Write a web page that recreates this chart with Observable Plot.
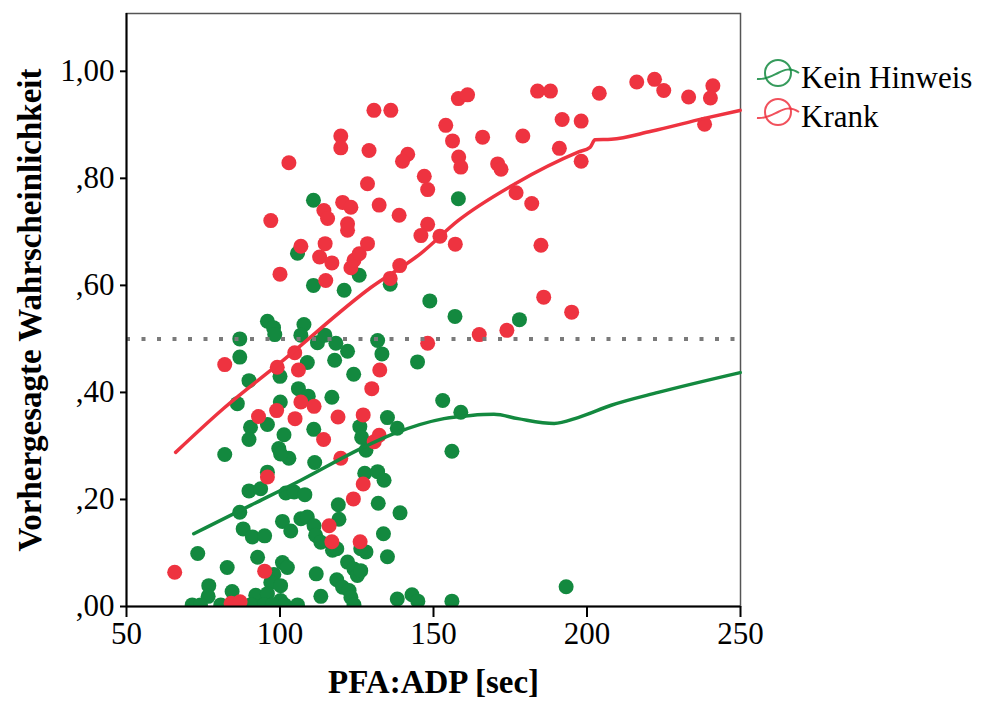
<!DOCTYPE html>
<html><head><meta charset="utf-8">
<script src="https://cdn.jsdelivr.net/npm/d3@7"></script>
<script src="https://cdn.jsdelivr.net/npm/@observablehq/plot@0.6"></script>
<style>body{margin:0;background:#fff}#wrap{position:relative;width:982px;height:706px;background:#fff}</style>
</head><body><div id="wrap"></div>
<script>
const groups = ["Kein Hinweis", "Krank"];
const colors = ["#13893f", "#ee3340"];
const xTitle = "PFA:ADP [sec]";
const yTitle = "Vorhergesagte Wahrscheinlichkeit";
const xTicks = [50, 100, 150, 200, 250];
const yTicks = [0, 0.2, 0.4, 0.6, 0.8, 1.0];
const yTickLabels = [",00", ",20", ",40", ",60", ",80", "1,00"];
const cutoff = 0.5;

const greenX = [105.7,110.9,120.9,125.8,95.9,97.9,98.3,107.8,106.8,86.9,
86.9,112.2,114.6,118.2,122.0,117.8,108.9,131.8,133.2,100.0,
89.9,124.0,86.1,100.1,106.0,109.2,116.9,90.4,89.9,95.9,
101.3,99.6,102.9,111.0,126.0,126.6,128.0,135.0,138.2,144.8,
82.0,111.3,100.2,95.9,89.9,93.7,101.9,104.6,108.1,127.6,
131.8,133.9,132.0,119.0,139.1,86.9,100.8,103.5,106.8,108.9,
111.1,111.6,113.3,119.2,88.0,91.0,95.0,117.1,118.5,128.0,
133.7,135.0,73.2,92.7,82.8,100.8,102.4,98.0,97.0,100.2,
111.8,122.0,124.1,125.2,118.5,120.4,122.5,123.1,76.8,76.6,
84.4,92.1,95.9,100.2,113.3,138.2,143.0,144.9,156.0,126.3,
153.0,158.9,156.0,193.2,135.9,148.8,157.0,178.0,158.1,110.9,
71.4,74.1,80.7,94.8,97.5,105.7,90.4,101.5,124.1,126.3];
const greenY = [0.660,0.600,0.591,0.619,0.533,0.521,0.508,0.527,0.507,0.500,
0.466,0.493,0.507,0.492,0.477,0.460,0.456,0.497,0.472,0.430,
0.422,0.434,0.379,0.382,0.407,0.393,0.391,0.335,0.312,0.340,
0.321,0.295,0.277,0.331,0.336,0.316,0.292,0.353,0.333,0.457,
0.284,0.269,0.285,0.251,0.216,0.220,0.212,0.214,0.209,0.249,
0.252,0.236,0.193,0.190,0.175,0.176,0.159,0.141,0.164,0.167,
0.151,0.133,0.120,0.163,0.145,0.130,0.132,0.105,0.108,0.102,
0.136,0.093,0.099,0.092,0.073,0.082,0.073,0.060,0.045,0.039,
0.061,0.083,0.070,0.058,0.050,0.036,0.030,0.017,0.039,0.019,
0.028,0.021,0.024,0.011,0.019,0.014,0.022,0.010,0.010,0.067,
0.385,0.363,0.290,0.037,0.602,0.571,0.542,0.536,0.762,0.759,
0.003,0.003,0.003,0.003,0.003,0.003,0.003,0.003,0.003,0.108];

const redX = [65.7,84.1,87.0,82.0,97.0,100.0,102.9,106.8,99.1,104.8,
106.0,132.5,129.9,98.9,93.0,106.8,111.1,104.9,118.9,127.1,
114.2,132.3,130.7,119.8,95.9,127.1,123.9,116.0,116.9,126.1,
95.0,114.7,112.9,116.9,114.9,123.1,124.1,125.8,128.5,114.3,
115.5,122.0,122.0,119.8,119.8,130.6,129.0,128.5,120.4,123.1,
136.1,158.1,161.1,183.9,188.1,204.0,154.0,141.6,139.9,156.2,
166.0,179.1,191.9,198.1,191.0,198.1,158.2,158.9,170.9,172.0,
147.0,148.1,132.3,138.8,148.1,176.9,182.0,145.9,152.1,157.1,
139.0,135.9,185.0,185.9,195.0,164.9,173.9,148.1,216.2,222.0,
225.0,233.1,241.0,240.2,238.3];
const redY = [0.064,0.006,0.009,0.452,0.721,0.621,0.829,0.673,0.447,0.474,
0.442,0.442,0.407,0.366,0.355,0.382,0.374,0.351,0.354,0.358,
0.312,0.320,0.308,0.277,0.242,0.229,0.201,0.151,0.121,0.121,
0.066,0.678,0.653,0.642,0.609,0.633,0.647,0.659,0.678,0.740,
0.725,0.715,0.703,0.879,0.857,0.927,0.852,0.790,0.755,0.746,
0.927,0.949,0.956,0.963,0.963,0.959,0.899,0.845,0.832,0.870,
0.877,0.879,0.910,0.907,0.856,0.832,0.840,0.821,0.827,0.817,
0.804,0.779,0.750,0.731,0.714,0.773,0.753,0.693,0.692,0.677,
0.637,0.613,0.675,0.578,0.550,0.508,0.516,0.492,0.980,0.985,
0.964,0.952,0.973,0.950,0.901];

const fitGreenX = [71.9,90.4,106.8,126.3,137.1,153.4,162.2,169.7,177.5,189.3,197.1,207.9,223.2,249.9];
const fitGreenY = [0.136,0.189,0.236,0.295,0.323,0.351,0.357,0.359,0.351,0.342,0.353,0.376,0.400,0.437];
const fitRedX = [66.0,81.6,100.6,129.6,145.9,158.0,176.9,197.1,201.0,202.6,207.9,220.9,238.2,249.9];
const fitRedY = [0.288,0.370,0.458,0.596,0.660,0.721,0.791,0.849,0.858,0.872,0.873,0.888,0.912,0.927];

const toRows = (xs, ys) => xs.map((x, i) => ({x, y: ys[i]}));
const greenPts = toRows(greenX, greenY);
const redPts = toRows(redX, redY);
const greenFit = toRows(fitGreenX, fitGreenY);
const redFit = toRows(fitRedX, fitRedY);

const chart = Plot.plot({
  width: 982, height: 706,
  marginLeft: 126, marginRight: 242, marginTop: 13, marginBottom: 100,
  style: {fontFamily: "'Liberation Serif', 'Times New Roman', serif", fontSize: "31px", color: "#000", background: "#fff", overflow: "visible"},
  x: {domain: [50, 250]},
  y: {domain: [0, 1.108]},
  marks: [
    Plot.frame({stroke: "#555", strokeWidth: 1.5}),
    Plot.dot(greenPts, {x: "x", y: "y", r: 7.5, fill: colors[0], clip: true}),
    Plot.dot(redPts, {x: "x", y: "y", r: 7.5, fill: colors[1], clip: true}),
    Plot.line(greenFit, {x: "x", y: "y", stroke: colors[0], strokeWidth: 3.5, curve: "monotone-x"}),
    Plot.line(redFit, {x: "x", y: "y", stroke: colors[1], strokeWidth: 3.5, curve: "monotone-x"}),
    Plot.ruleY([cutoff], {stroke: "#7a7a7a", strokeWidth: 4, strokeDasharray: "4,11.5"}),
    Plot.ruleX([50], {stroke: "#000", strokeWidth: 2}),
    Plot.ruleY([0], {stroke: "#000", strokeWidth: 2}),
    Plot.axisX({ticks: xTicks, tickSize: 11, tickPadding: 4, strokeWidth: 2, label: null, fontSize: 31}),
    Plot.axisY({ticks: yTicks, tickFormat: d => yTickLabels[Math.round(d * 5)], tickSize: 6, tickPadding: 6, strokeWidth: 2, label: null, fontSize: 31}),
    Plot.text([xTitle], {frameAnchor: "bottom", dy: 86, fontWeight: "bold", fontSize: 33, fill: "#000"}),
    Plot.text([yTitle], {frameAnchor: "left", textAnchor: "middle", rotate: -90, dx: -96, fontWeight: "bold", fontSize: 33, fill: "#000"})
  ]
});
const wrap = document.getElementById("wrap");
wrap.appendChild(chart);

// legend (right of the plot)
const leg = d3.select(wrap).append("svg")
  .attr("width", 242).attr("height", 120)
  .style("position", "absolute").style("left", "740px").style("top", "40px")
  .style("font-family", "'Liberation Serif', 'Times New Roman', serif");
groups.forEach((g, i) => {
  const cy = 33 + i * 39;
  const gg = leg.append("g").attr("transform", `translate(38,${cy})`);
  gg.append("circle").attr("r", 13).attr("fill", "none").attr("stroke", colors[i]).attr("stroke-width", 2).attr("opacity", 0.85);
  gg.append("path").attr("d", "M-21,6 C-12,7 -6,3 0,0 C6,-3 12,-6 21,0").attr("fill", "none").attr("stroke", colors[i]).attr("stroke-width", 2).attr("opacity", 0.85);
  leg.append("text").attr("x", 61).attr("y", cy + 15).attr("font-size", 31).attr("fill", "#000").text(g);
});
</script>
</body></html>
